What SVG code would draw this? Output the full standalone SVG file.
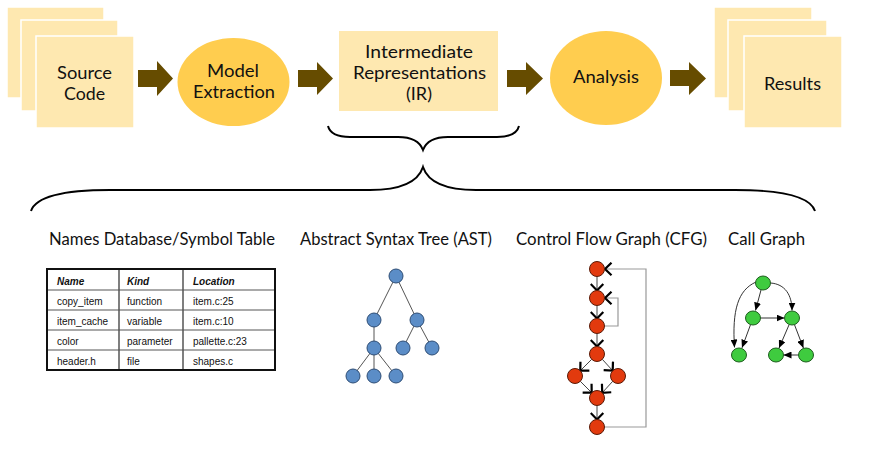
<svg xmlns="http://www.w3.org/2000/svg" width="871" height="452" viewBox="0 0 871 452">
  <style>
    .page { fill: #FEE8B0; stroke: #ffffff; stroke-width: 1.5; }
    .oval { fill: #FFCD4F; }
    .flow { fill: #664C00; }
    .lbl { font-family: Lato, "Open Sans", sans-serif; font-size: 17px; fill: #111; text-anchor: middle; }
    .cap { font-family: Lato, "Open Sans", sans-serif; font-size: 16.5px; fill: #111; text-anchor: middle; }
    .brace { fill: none; stroke: #000; stroke-width: 2; }
    .tbl { font-family: "Liberation Sans", Arial, sans-serif; font-size: 10px; fill: #111; }
    .th { font-weight: bold; font-style: italic; }
    .ast-e { stroke: #555; stroke-width: 1; }
    .ast-n { fill: #5B8DC7; stroke: #2E4D75; stroke-width: 1; }
    .cfg-e { stroke: #444; stroke-width: 1; fill: none; marker-end: url(#chev); }
    .cfg-loop { stroke: #999; stroke-width: 1.2; fill: none; marker-end: url(#chev); }
    .cfg-n { fill: #E23A0E; stroke: #5a1a06; stroke-width: 1; }
    .cg-e { stroke: #333; stroke-width: 1; fill: none; marker-end: url(#tri); }
    .cg-n { fill: #3FCB3F; stroke: #1E5E1E; stroke-width: 1; }
  </style>
  <defs>
    <marker id="chev" markerUnits="userSpaceOnUse" markerWidth="10" markerHeight="15" viewBox="0 0 10 15" refX="7.5" refY="7.5" orient="auto">
      <path d="M1,1.2 L7.5,7.5 L1,13.8" fill="none" stroke="#000" stroke-width="2.2"/>
    </marker>
    <marker id="tri" markerUnits="userSpaceOnUse" markerWidth="8" markerHeight="7" viewBox="0 0 8 7" refX="8" refY="3.5" orient="auto">
      <path d="M0,0 L8,3.5 L0,7 z" fill="#000"/>
    </marker>
  </defs>
  <rect width="871" height="452" fill="#ffffff"/>

  <!-- pipeline nodes -->
  <g id="source-code">
    <rect class="page" x="7" y="7" width="97" height="91"/>
    <rect class="page" x="21" y="20" width="97" height="91"/>
    <rect class="page" x="36" y="36" width="98" height="92"/>
    <text class="lbl" x="84.5" y="79" textLength="55" lengthAdjust="spacingAndGlyphs">Source</text>
    <text class="lbl" x="84.5" y="100" textLength="41" lengthAdjust="spacingAndGlyphs">Code</text>
  </g>
  <g id="model-extraction">
    <ellipse class="oval" cx="233.5" cy="82" rx="56" ry="44"/>
    <text class="lbl" x="233" y="77" textLength="52" lengthAdjust="spacingAndGlyphs">Model</text>
    <text class="lbl" x="234" y="98" textLength="82" lengthAdjust="spacingAndGlyphs">Extraction</text>
  </g>
  <g id="ir">
    <rect x="339" y="31" width="159" height="80" fill="#FEE8B0"/>
    <text class="lbl" x="419" y="58" textLength="108" lengthAdjust="spacingAndGlyphs">Intermediate</text>
    <text class="lbl" x="419.5" y="79" textLength="133" lengthAdjust="spacingAndGlyphs">Representations</text>
    <text class="lbl" x="419" y="100" textLength="26" lengthAdjust="spacingAndGlyphs">(IR)</text>
  </g>
  <g id="analysis">
    <ellipse class="oval" cx="606" cy="78" rx="56" ry="47"/>
    <text class="lbl" x="606" y="83" textLength="66" lengthAdjust="spacingAndGlyphs">Analysis</text>
  </g>
  <g id="results">
    <rect class="page" x="714" y="7" width="98" height="91"/>
    <rect class="page" x="728" y="20" width="99" height="91"/>
    <rect class="page" x="744" y="36" width="98" height="92"/>
    <text class="lbl" x="792.5" y="90" textLength="57" lengthAdjust="spacingAndGlyphs">Results</text>
  </g>

  <!-- pipeline arrows -->
  <g id="connectors">
    <path class="flow" d="M138,70 H157 V61 L173,78.5 L157,96 V87 H138 Z"/>
    <path class="flow" d="M298,70 H317 V62 L333,78.5 L317,95 V87 H298 Z"/>
    <path class="flow" d="M507,70 H526 V62 L543,78.5 L526,95 V87 H507 Z"/>
    <path class="flow" d="M670,70 H689 V62 L706,78.5 L689,95 V86 H670 Z"/>
  </g>

  <!-- braces -->
  <g id="braces">
    <path class="brace" d="M328,126 C330,134 338,137 350,137 L398,137 C412,137 420,142 423,150 C426,142 434,137 448,137 L497,137 C509,137 517,134 519,126"/>
    <path class="brace" d="M31,211 C36,196 65,190 110,190 L370,190 C400,190 418,182 423,167 C428,182 446,190 476,190 L735,190 C781,190 810,196 815,211"/>
  </g>

  <!-- captions -->
  <g id="captions">
    <text class="cap" x="162" y="245" textLength="226" lengthAdjust="spacingAndGlyphs">Names Database/Symbol Table</text>
    <text class="cap" x="396" y="245" textLength="192" lengthAdjust="spacingAndGlyphs">Abstract Syntax Tree (AST)</text>
    <text class="cap" x="611.5" y="245" textLength="191" lengthAdjust="spacingAndGlyphs">Control Flow Graph (CFG)</text>
    <text class="cap" x="766.5" y="245" textLength="77" lengthAdjust="spacingAndGlyphs">Call Graph</text>
  </g>

  <!-- symbol table -->
  <g id="symbol-table">
    <g stroke="#555" stroke-width="1">
      <line x1="47" y1="290" x2="275" y2="290"/>
      <line x1="47" y1="310" x2="275" y2="310"/>
      <line x1="47" y1="330" x2="275" y2="330"/>
      <line x1="47" y1="350" x2="275" y2="350"/>
      <line x1="119" y1="269" x2="119" y2="370" stroke-width="1.5"/>
      <line x1="183" y1="269" x2="183" y2="370" stroke-width="1.5"/>
    </g>
    <rect x="47" y="269" width="228" height="101" fill="none" stroke="#111" stroke-width="2"/>
    <g class="tbl">
      <text class="th" x="57" y="285">Name</text>
      <text class="th" x="127" y="285">Kind</text>
      <text class="th" x="193" y="285">Location</text>
      <text x="57" y="305">copy_item</text>
      <text x="127" y="305">function</text>
      <text x="193" y="305">item.c:25</text>
      <text x="57" y="325">item_cache</text>
      <text x="127" y="325">variable</text>
      <text x="193" y="325">item.c:10</text>
      <text x="57" y="345">color</text>
      <text x="127" y="345">parameter</text>
      <text x="193" y="345">pallette.c:23</text>
      <text x="57" y="365">header.h</text>
      <text x="127" y="365">file</text>
      <text x="193" y="365">shapes.c</text>
    </g>
  </g>

  <!-- abstract syntax tree -->
  <g id="ast">
    <g class="ast-e">
      <line x1="396" y1="276" x2="374" y2="320"/>
      <line x1="396" y1="276" x2="417" y2="320"/>
      <line x1="374" y1="320" x2="374" y2="348"/>
      <line x1="417" y1="320" x2="403" y2="348"/>
      <line x1="417" y1="320" x2="432" y2="348"/>
      <line x1="374" y1="348" x2="353" y2="376"/>
      <line x1="374" y1="348" x2="374" y2="376"/>
      <line x1="374" y1="348" x2="396" y2="376"/>
    </g>
    <circle class="ast-n" cx="396" cy="276" r="7"/>
    <circle class="ast-n" cx="374" cy="320" r="7"/>
    <circle class="ast-n" cx="417" cy="320" r="7"/>
    <circle class="ast-n" cx="374" cy="348" r="7"/>
    <circle class="ast-n" cx="403" cy="348" r="7"/>
    <circle class="ast-n" cx="432" cy="348" r="7"/>
    <circle class="ast-n" cx="353" cy="376" r="7"/>
    <circle class="ast-n" cx="374" cy="376" r="7"/>
    <circle class="ast-n" cx="396" cy="376" r="7"/>
  </g>

  <!-- control flow graph -->
  <g id="cfg">
    <polyline class="cfg-loop" points="604.5,427 646,427 646,269 605,269"/>
    <polyline class="cfg-loop" points="604.5,326 618,326 618,298 605,298"/>
    <line class="cfg-e" x1="597" y1="276.5" x2="597" y2="290.5"/>
    <line class="cfg-e" x1="597" y1="305.5" x2="597" y2="318.5"/>
    <line class="cfg-e" x1="597" y1="333.5" x2="597" y2="346.5"/>
    <line class="cfg-e" x1="591.7" y1="359.3" x2="580.3" y2="370.7"/>
    <line class="cfg-e" x1="602.3" y1="359.3" x2="612.7" y2="370.7"/>
    <line class="cfg-e" x1="580.3" y1="381.3" x2="591.7" y2="392.7"/>
    <line class="cfg-e" x1="612.8" y1="381.2" x2="602.2" y2="392.8"/>
    <line class="cfg-e" x1="597" y1="405.5" x2="597" y2="419.5"/>
    <circle class="cfg-n" cx="597" cy="269" r="7.5"/>
    <circle class="cfg-n" cx="597" cy="298" r="7.5"/>
    <circle class="cfg-n" cx="597" cy="326" r="7.5"/>
    <circle class="cfg-n" cx="597" cy="354" r="7.5"/>
    <circle class="cfg-n" cx="575" cy="376" r="7.5"/>
    <circle class="cfg-n" cx="618" cy="376" r="7.5"/>
    <circle class="cfg-n" cx="597" cy="398" r="7.5"/>
    <circle class="cfg-n" cx="597" cy="427" r="7.5"/>
  </g>

  <!-- call graph -->
  <g id="call-graph">
    <line class="cg-e" x1="761" y1="290" x2="755.5" y2="310.5"/>
    <path class="cg-e" d="M770.5,283 C785,284 792,295 792,310.5"/>
    <path class="cg-e" d="M756,282 C738,290 732,310 734.5,347.5"/>
    <line class="cg-e" x1="760.5" y1="318" x2="784.5" y2="318"/>
    <line class="cg-e" x1="750.4" y1="325" x2="742" y2="347.8"/>
    <line class="cg-e" x1="789" y1="324.9" x2="779" y2="348.1"/>
    <line class="cg-e" x1="794.6" y1="325" x2="803.4" y2="348"/>
    <line class="cg-e" x1="798.5" y1="355" x2="783.5" y2="355"/>
    <ellipse class="cg-n" cx="763" cy="283" rx="7.5" ry="7"/>
    <ellipse class="cg-n" cx="753" cy="318" rx="7.5" ry="7"/>
    <ellipse class="cg-n" cx="792" cy="318" rx="7.5" ry="7"/>
    <ellipse class="cg-n" cx="739" cy="355" rx="7.5" ry="7"/>
    <ellipse class="cg-n" cx="776" cy="355" rx="7.5" ry="7"/>
    <ellipse class="cg-n" cx="806" cy="355" rx="7.5" ry="7"/>
  </g>
</svg>
